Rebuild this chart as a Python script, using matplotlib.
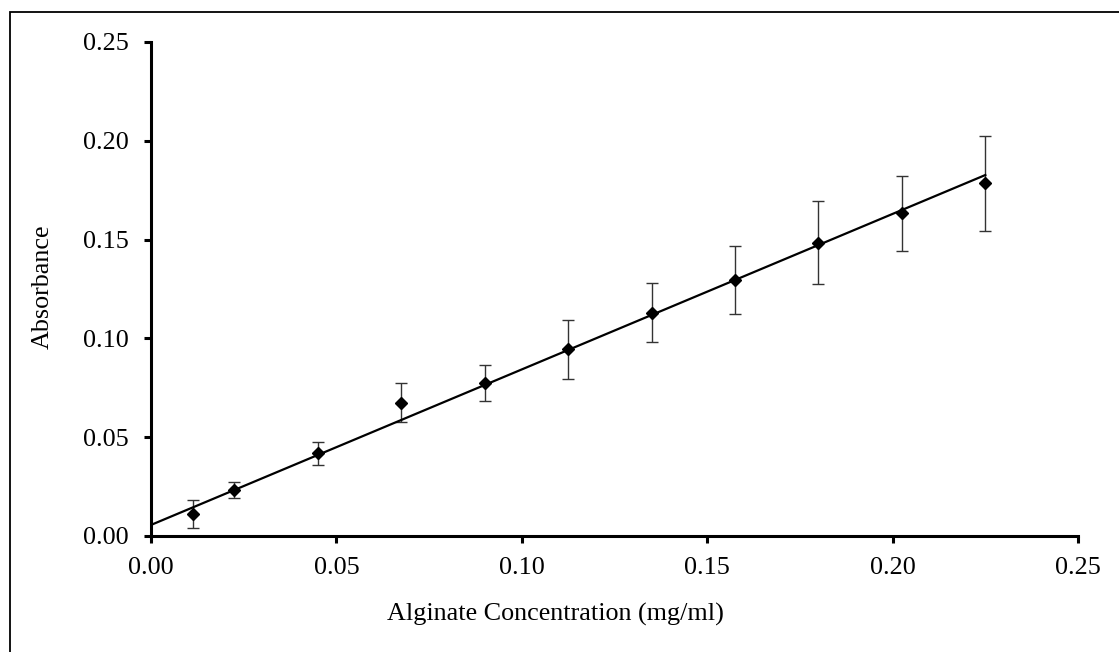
import matplotlib
matplotlib.use("Agg")
import matplotlib.pyplot as plt
import numpy as np
from matplotlib.patches import Rectangle

concentration = [0.01125, 0.0225, 0.045, 0.0675, 0.09, 0.1125, 0.135, 0.1575, 0.18, 0.2025, 0.225]
absorbance = [0.0111, 0.0233, 0.0418, 0.0675, 0.0773, 0.0945, 0.1130, 0.1296, 0.1484, 0.1633, 0.1785]
abs_error = [0.007, 0.004, 0.006, 0.010, 0.009, 0.015, 0.015, 0.017, 0.021, 0.019, 0.024]
trend_slope = 0.787
trend_intercept = 0.0056
x_ticks = [0.00, 0.05, 0.10, 0.15, 0.20, 0.25]
y_ticks = [0.00, 0.05, 0.10, 0.15, 0.20, 0.25]
x_label = "Alginate Concentration (mg/ml)"
y_label = "Absorbance"

plt.rcParams['font.family'] = ['Liberation Serif', 'DejaVu Serif']

W, H = 1119, 652
fig = plt.figure(figsize=(W / 100, H / 100), dpi=100)
ax = fig.add_axes([151 / W, 1 - 536 / H, (1078 - 151) / W, (536 - 42) / H])

ax.errorbar(concentration, absorbance, yerr=abs_error, fmt='none', ecolor='#333333',
            elinewidth=1.0, capsize=4.5, capthick=1.0, zorder=2)
ax.plot(concentration, absorbance, linestyle='none', marker='D', markersize=6.5,
        color='black', zorder=4)

xfit = np.array([0.0, max(concentration)])
ax.plot(xfit, trend_slope * xfit + trend_intercept, color='black', linewidth=1.6, zorder=3)

ax.set_xlim(0, 0.25)
ax.set_ylim(0, 0.25)
ax.set_xticks(x_ticks)
ax.set_yticks(y_ticks)
ax.set_xticklabels([f"{v:.2f}" for v in x_ticks])
ax.set_yticklabels([f"{v:.2f}" for v in y_ticks])

for s in ['top', 'right']:
    ax.spines[s].set_visible(False)
for s in ['left', 'bottom']:
    ax.spines[s].set_linewidth(2.2)
ax.tick_params(axis='both', direction='out', length=5, width=2.2, labelsize=18.8, colors='black')
ax.tick_params(axis='y', pad=11)
ax.tick_params(axis='x', pad=10)

fig.text(555 / W, 1 - 614 / H, x_label, ha='center', va='center', fontsize=18.8)
fig.text(43 / W, 1 - 287 / H, y_label, ha='center', va='center', fontsize=18.8, rotation=90)

fig.add_artist(Rectangle((10 / W, -0.2), 2, 1.2 - 12 / H, transform=fig.transFigure,
                         fill=False, edgecolor='black', linewidth=1.3))

fig.savefig("out.png", dpi=100)
